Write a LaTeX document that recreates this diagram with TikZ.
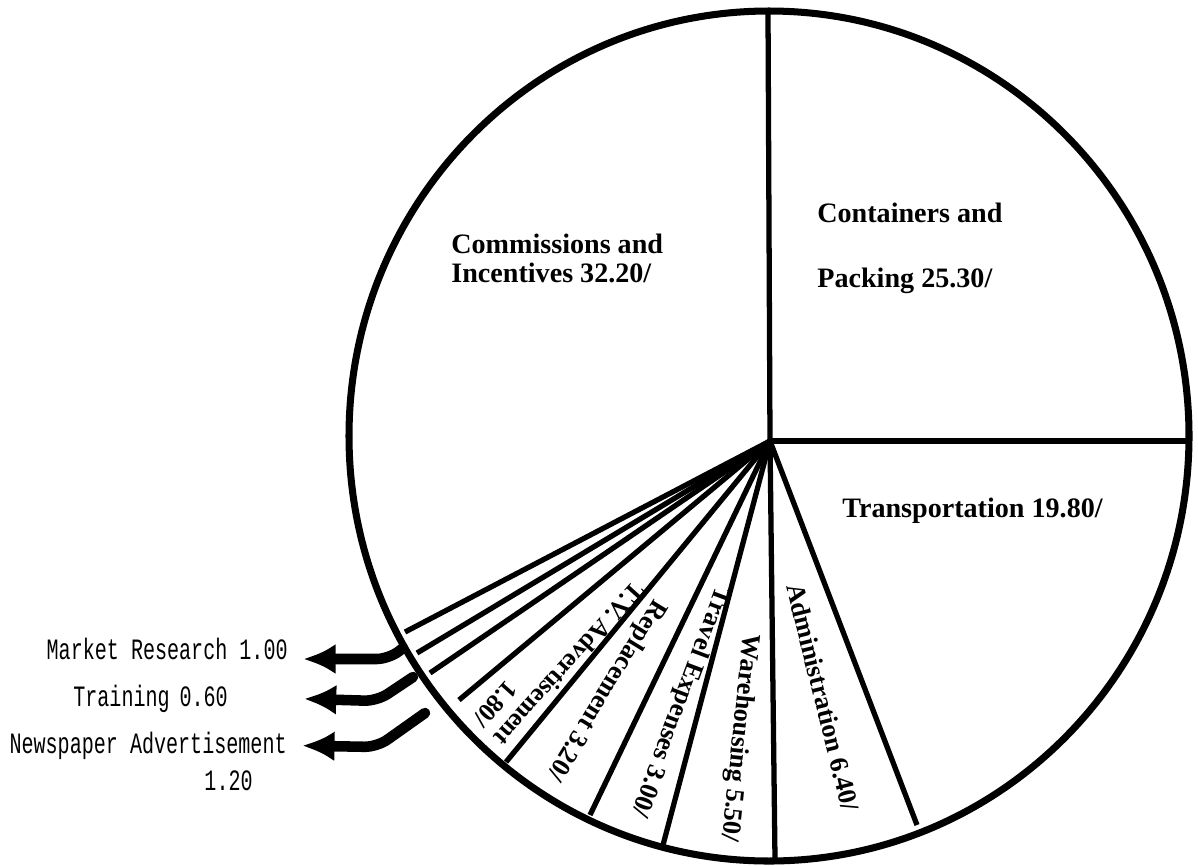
\documentclass[tikz,border=0pt]{standalone}
\usepackage{fontspec}
\setmainfont{Liberation Serif}
\newfontfamily\typefont[FakeStretch=0.68]{Liberation Mono}
\usetikzlibrary{arrows.meta,positioning}
\tikzset{
  slicelabel/.style={font=\fontsize{16}{16.5}\selectfont\bfseries, inner sep=0pt},
  rotlabel/.style={font=\fontsize{15}{17}\selectfont\bfseries, inner sep=0pt},
  sidelabel/.style={font=\typefont\fontsize{16.8}{18}\selectfont, inner sep=0pt},
  spoke/.style={line width=3pt},
  rim/.style={line width=4pt},
  bigarrow/.style={line width=6pt, line cap=round, rounded corners=2.5mm, -{Latex[length=6.5mm,width=6mm]}, shorten >=3mm},
}

\begin{document}
\begin{tikzpicture}[x=0.2mm,y=0.2mm]
\useasboundingbox (0,0) rectangle (1198,-865);
% Pie
\coordinate (o) at (770,-441);
\foreach \p in {(768,-11),(1189,-441),(917,-825),(775,-859),(663,-845),(590,-815),(506,-762),(459,-700),(430,-673),(417,-653),(405,-632)}
  \draw[spoke] (o) -- \p;
\draw[rim] (769,-436) ellipse (420 and 425);
% Slice labels
\node[slicelabel, align=left, anchor=north west] (comm) at (451,-234) {Commissions and\\Incentives 32.20/};
\node[slicelabel, align=left, anchor=north west] (cont) at (817,-203) {Containers and\\[20.5pt]Packing 25.30/};
\node[slicelabel, anchor=base west] (trans) at (842,-517) {Transportation 19.80/};
\node[rotlabel, rotate=-76] (admin) at (823,-697) {Administration 6.40/};
\node[rotlabel, rotate=-96] (ware) at (739,-738) {Warehousing 5.50/};
\node[rotlabel, rotate=-110.5] (travel) at (680,-702) {Travel Expenses 3.00/};
\node[rotlabel, rotate=-121.5] (repl) at (606,-690) {Replacement 3.20/};
\node[rotlabel, font=\fontsize{14.5}{16}\selectfont\bfseries, rotate=-132, align=right] (tv) at (559,-655) {T.V. Advertisement\\1.80/};
% Small slices
\node[sidelabel, anchor=base east] (mr) at (288,-659) {Market Research 1.00};
\node[sidelabel, anchor=base west, text width=43mm, align=left] (tr) at (73,-706) {Training 0.60};
\node[sidelabel, anchor=base east] (np) at (287,-753) {Newspaper Advertisement};
\node[sidelabel, below left=2.2mm and 6.8mm of np.south east] (npval) {1.20};
\coordinate (mrtail) at (403,-648);
\coordinate (trtail) at (413,-677);
\coordinate (nptail) at (425,-713);
\draw[bigarrow] (mrtail) -- ++(-14,-11) -- (mr.base east);
\draw[bigarrow] (trtail) -- ++(-36,-24) -- (tr.east);
\draw[bigarrow] (nptail) -- ++(-48,-34) -- (np.east);
\end{tikzpicture}
\end{document}
